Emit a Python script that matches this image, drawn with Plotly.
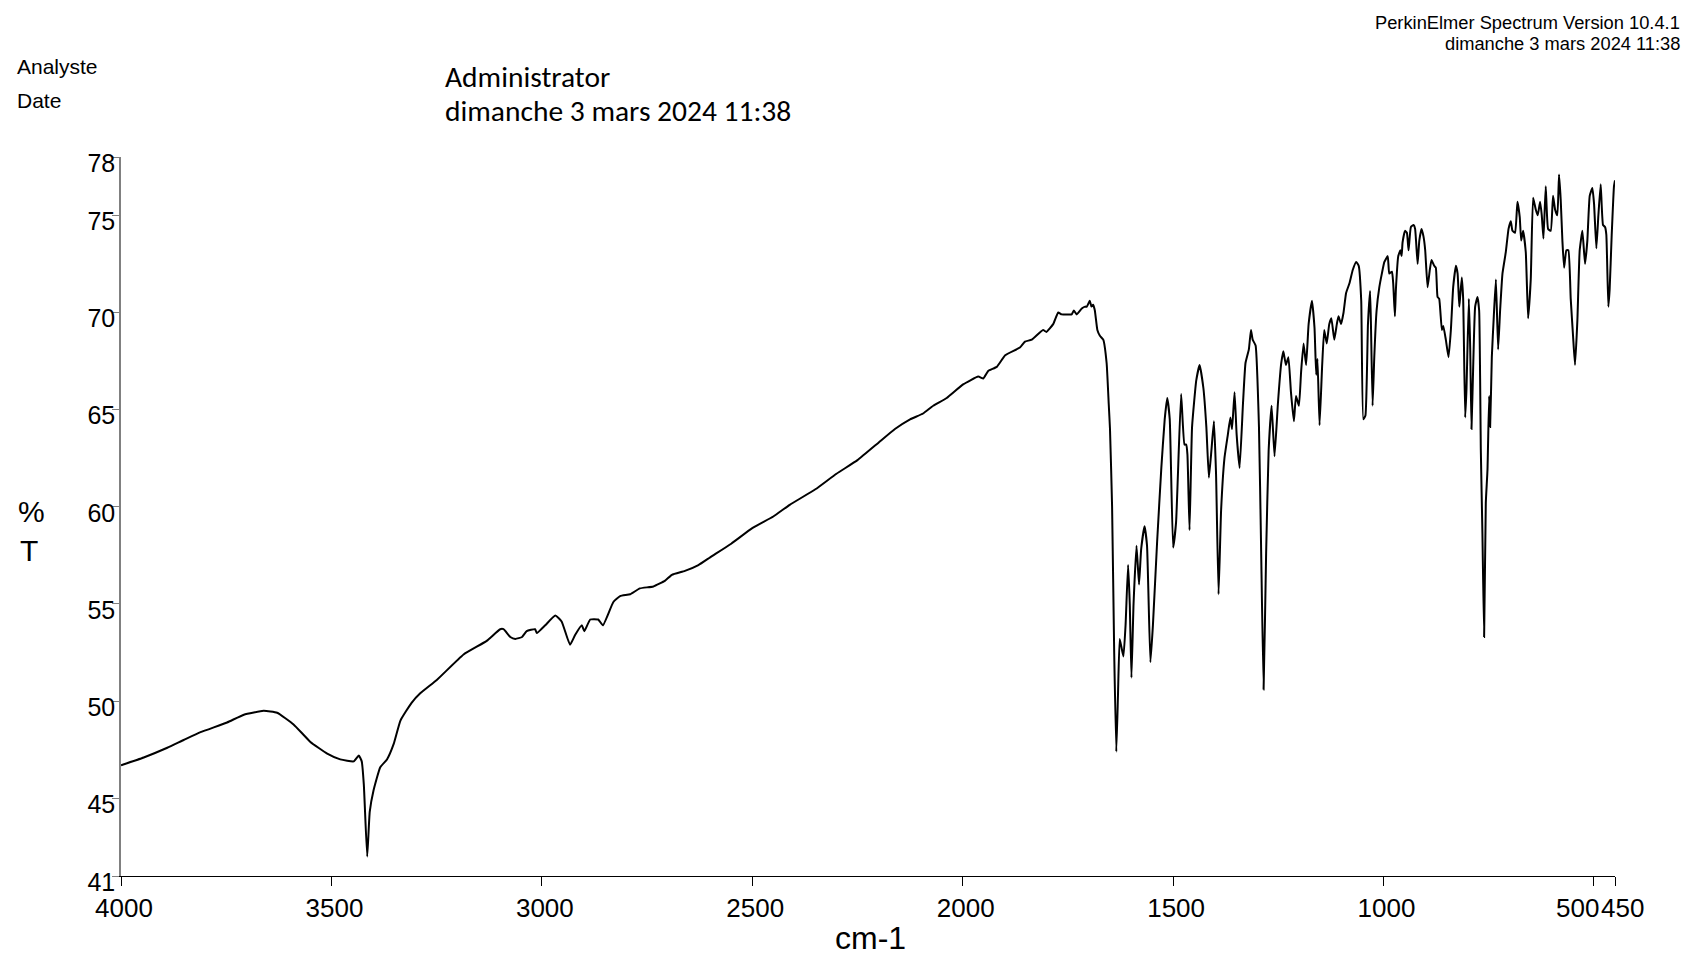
import plotly.graph_objects as go

# FT-IR transmission spectrum (wavenumber in cm-1, transmittance in %T)
wavenumber = [
    4000, 3946, 3890, 3851, 3811, 3748, 3708, 3661, 3629, 3590, 3550, 3510, 3479, 3447,
    3435, 3428, 3423, 3415, 3409, 3400, 3384, 3368, 3352, 3336, 3310, 3289, 3249, 3186,
    3131, 3099, 3091, 3075, 3063, 3047, 3036, 3016, 3012, 2992, 2968, 2953, 2933, 2921,
    2905, 2899, 2885, 2866, 2855, 2830, 2814, 2790, 2767, 2735, 2707, 2691, 2660, 2628,
    2600, 2550, 2500, 2450, 2411, 2350, 2300, 2250, 2200, 2161, 2125, 2094, 2070, 2038,
    1999, 1963, 1951, 1939, 1919, 1899, 1864, 1852, 1836, 1809, 1801, 1785, 1773, 1765,
    1753, 1741, 1736, 1729, 1717, 1709, 1705, 1698, 1694, 1690, 1686, 1680, 1674, 1666,
    1658, 1653, 1650, 1645, 1640, 1635, 1631, 1627, 1623, 1618, 1613, 1607, 1603, 1599,
    1594, 1587, 1581, 1576, 1568, 1562, 1554, 1548, 1538, 1528, 1520, 1514, 1508, 1500,
    1493, 1481, 1473, 1469, 1466, 1461, 1455, 1445, 1437, 1428, 1421, 1415, 1409, 1403,
    1398, 1392, 1386, 1378, 1370, 1364, 1360, 1354, 1349, 1342, 1334, 1328, 1320, 1315,
    1311, 1304, 1296, 1291, 1285, 1279, 1273, 1266, 1259, 1251, 1243, 1238, 1232, 1226,
    1220, 1213, 1208, 1201, 1196, 1190, 1184, 1178, 1170, 1164, 1160, 1157, 1152, 1146,
    1141, 1135, 1129, 1124, 1117, 1111, 1107, 1101, 1095, 1089, 1081, 1073, 1065, 1059,
    1053, 1048, 1043, 1037, 1032, 1030, 1026, 1022, 1016.5, 1010, 1004, 998, 990, 986.4,
    980, 977, 973, 970.6, 965, 960, 957, 954.8, 949, 944.5, 940.5, 935, 928.7, 925,
    919, 915, 909.7, 905, 901, 895.4, 890, 886, 879.6, 875.7, 871.7, 867.7, 861.4, 858,
    852, 845.6, 840, 834.5, 828, 824, 820, 818, 814, 810.8, 806, 803, 797.3, 794,
    791, 787, 782.3, 776.8, 772.8, 768.8, 765, 761, 757, 753, 749, 746.7, 742.7, 738,
    733, 727.7, 723, 717.4, 709.5, 703, 697.6, 693.7, 687.4, 681.8, 676.3, 673, 668.4, 662,
    656.5, 650.2, 644.6, 638.3, 633.5, 628, 624, 620, 614.6, 609, 602.7, 597.2, 592.4, 587,
    583, 579, 575, 571, 565.5, 560.8, 555.2, 549.7, 545, 539.4, 533.9, 527.5, 521.2, 515.7,
    510.1, 503.8, 499.8, 494.3, 489.5, 484, 478.5, 473.7, 470.6, 465.8, 462.7, 458, 452.4, 450,
]

transmittance = [
    46.7, 47.1, 47.6, 48.0, 48.4, 48.9, 49.3, 49.5, 49.4, 48.8, 47.9, 47.3, 47.0, 46.9,
    47.2, 46.9, 45.7, 42.0, 44.3, 45.4, 46.6, 47.0, 47.8, 49.0, 49.9, 50.4, 51.1, 52.4,
    53.1, 53.7, 53.7, 53.3, 53.2, 53.3, 53.6, 53.7, 53.5, 53.9, 54.4, 54.1, 52.9, 53.4,
    53.9, 53.6, 54.2, 54.2, 53.9, 55.1, 55.4, 55.5, 55.8, 55.9, 56.2, 56.5, 56.7, 57.0,
    57.4, 58.1, 58.9, 59.5, 60.1, 60.9, 61.7, 62.4, 63.3, 64.0, 64.5, 64.8, 65.2, 65.6,
    66.3, 66.7, 66.6, 67.0, 67.2, 67.8, 68.2, 68.5, 68.6, 69.1, 69.0, 69.4, 70.0, 69.9,
    69.9, 69.9, 70.1, 69.9, 70.2, 70.3, 70.3, 70.6, 70.3, 70.4, 70.1, 69.1, 68.8, 68.6,
    67.4, 65.3, 64.0, 60.0, 52.5, 47.4, 50.3, 53.2, 52.8, 52.3, 53.9, 57.0, 55.0, 51.2,
    55.0, 58.0, 56.0, 57.8, 59.0, 58.0, 52.0, 53.9, 58.2, 62.0, 64.5, 65.6, 64.5, 57.9,
    59.2, 65.8, 63.2, 63.2, 62.7, 58.8, 64.1, 66.5, 67.3, 66.1, 64.1, 61.5, 62.9, 64.4,
    61.7, 55.5, 59.8, 62.5, 63.7, 64.6, 64.0, 65.9, 63.7, 62.0, 65.3, 67.4, 68.1, 69.1,
    68.6, 68.3, 64.1, 58.0, 50.6, 57.6, 62.9, 65.2, 62.6, 65.3, 67.4, 68.0, 67.3, 67.7,
    65.9, 64.4, 65.7, 65.2, 66.9, 68.4, 67.3, 69.4, 70.6, 69.2, 66.8, 67.6, 64.2, 67.2,
    69.1, 68.4, 69.4, 69.7, 68.6, 69.4, 69.8, 69.4, 70.0, 71.0, 71.5, 72.2, 72.6, 72.4,
    70.6, 64.5, 64.7, 69.4, 71.1, 69.5, 65.2, 67.7, 70.1, 71.3, 72.0, 72.6, 72.9, 72.0,
    72.1, 71.5, 69.8, 71.2, 72.9, 73.2, 72.9, 73.6, 74.2, 74.1, 73.2, 74.4, 74.5, 74.3,
    72.5, 73.7, 74.3, 73.9, 73.2, 71.3, 72.2, 72.7, 72.4, 72.3, 70.8, 70.7, 69.1, 69.3,
    68.6, 67.7, 69.1, 71.3, 72.4, 72.0, 70.3, 70.8, 71.8, 70.7, 64.6, 66.0, 70.7, 68.1,
    64.0, 67.2, 70.3, 70.8, 70.1, 62.9, 58.6, 53.3, 60.2, 61.9, 65.7, 64.1, 67.7, 69.8,
    71.7, 68.1, 70.1, 72.0, 73.1, 74.3, 74.7, 74.2, 74.1, 75.7, 74.9, 73.7, 74.2, 73.1,
    69.7, 71.7, 75.9, 75.3, 75.0, 75.7, 75.0, 73.8, 76.5, 74.3, 74.2, 76.0, 75.3, 75.0,
    77.1, 75.8, 73.7, 72.3, 73.2, 73.2, 70.7, 68.8, 67.3, 69.6, 73.2, 74.2, 72.5, 73.7,
    76.0, 76.4, 75.6, 73.3, 75.0, 76.6, 74.5, 74.4, 74.0, 70.3, 71.2, 73.9, 76.5, 76.8,
]

# Axis ticks
x_tick_vals = [4000, 3500, 3000, 2500, 2000, 1500, 1000, 500, 450]
x_tick_text = ["4000", "3500", "3000", "2500", "2000", "1500", "1000", "500", "450"]
y_tick_vals = [41, 45, 50, 55, 60, 65, 70, 75, 78]
y_tick_text = ["41", "45", "50", "55", "60", "65", "70", "75", "78"]

# Header texts
header_labels = ["Analyste", "Date"]
header_values = ["Administrator", "dimanche 3 mars 2024 11:38"]
software_lines = ["PerkinElmer Spectrum Version 10.4.1", "dimanche 3 mars 2024 11:38"]
x_title = "cm-1"
y_title_lines = ["%", "T"]

W, H = 1685, 955
L, R, T, B = 121, 70, 157, 79
PW, PH = W - L - R, H - T - B
SANS = "Liberation Sans, Arial, sans-serif"
TICK_SIZE_X = 26


def fx(px):
    return (px - L) / PW


def fy(py):
    return (H - B - py) / PH


fig = go.Figure()
fig.add_trace(go.Scatter(
    x=wavenumber, y=transmittance, mode="lines",
    line=dict(color="black", width=2, shape="spline", smoothing=0.4),
    hoverinfo="skip", showlegend=False,
))

# the two rightmost labels (500, 450) are crowded; they are placed side by side below
crowded = {500: -16, 450: 7}
shown_text = [t if v not in crowded else "" for v, t in zip(x_tick_vals, x_tick_text)]

fig.update_layout(
    width=W, height=H,
    margin=dict(l=L, r=R, t=T, b=B, pad=0),
    paper_bgcolor="white", plot_bgcolor="white",
    font=dict(family=SANS, color="black"),
    xaxis=dict(
        range=[4000, 450], tickmode="array", tickvals=x_tick_vals, ticktext=shown_text,
        tickangle=0, showgrid=False, zeroline=False, showline=True,
        linecolor="black", linewidth=1.2, ticks="outside", ticklen=9,
        tickcolor="black", tickwidth=1.2, tickfont=dict(size=TICK_SIZE_X, family=SANS),
        ticklabelshift=-3,
    ),
    yaxis=dict(
        range=[41, 78], tickmode="array", tickvals=y_tick_vals, ticktext=y_tick_text,
        showgrid=False, zeroline=False, showline=True, linecolor="#808080",
        linewidth=1.5, ticks="outside", ticklen=7, tickcolor="#808080", tickwidth=1.2,
        tickfont=dict(size=25, family=SANS), ticklabelshift=6, ticklabelstandoff=-8,
    ),
)

ann = []
for v, t in zip(x_tick_vals, x_tick_text):
    if v in crowded:
        ann.append(dict(x=v, xref="x", y=0, yref="paper", text=t,
                        showarrow=False, xanchor="center", yanchor="top",
                        xshift=crowded[v], yshift=-15,
                        font=dict(size=TICK_SIZE_X, family=SANS)))

for label, cy in zip(header_labels, [67, 100]):
    ann.append(dict(x=fx(15), y=fy(cy), xref="paper", yref="paper", text=label,
                    showarrow=False, xanchor="left", yanchor="middle",
                    font=dict(size=21, family=SANS)))
for value, cy in zip(header_values, [77, 111]):
    ann.append(dict(x=fx(443), y=fy(cy), xref="paper", yref="paper", text=value,
                    showarrow=False, xanchor="left", yanchor="middle",
                    font=dict(size=29.5, family="Carlito, Lato, sans-serif")))
for line, cy in zip(software_lines, [22, 44]):
    ann.append(dict(x=fx(1682), y=fy(cy), xref="paper", yref="paper", text=line,
                    showarrow=False, xanchor="right", yanchor="middle",
                    font=dict(size=18.3, family=SANS)))
for ch, cx, cy in zip(y_title_lines, [31, 29], [511, 550]):
    ann.append(dict(x=fx(cx), y=fy(cy), xref="paper", yref="paper", text=ch,
                    showarrow=False, xanchor="center", yanchor="middle",
                    font=dict(size=30, family=SANS)))
ann.append(dict(x=fx(870), y=fy(938), xref="paper", yref="paper", text=x_title,
                showarrow=False, xanchor="center", yanchor="middle",
                font=dict(size=32, family=SANS)))

fig.update_layout(annotations=ann)
fig.write_html("out.html")
